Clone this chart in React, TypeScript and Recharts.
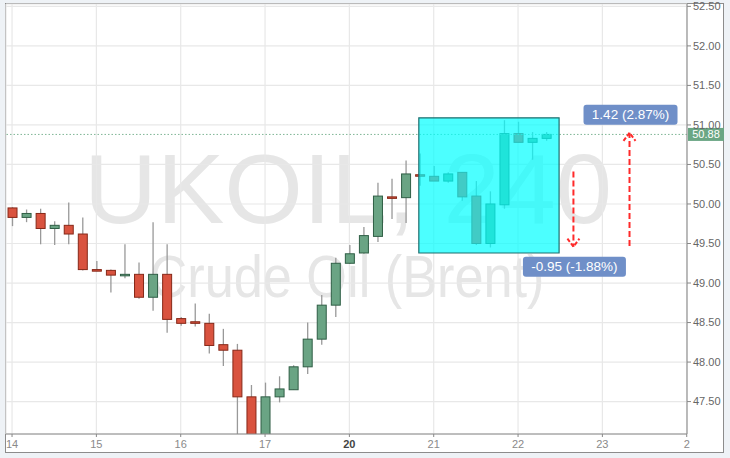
import {
  ComposedChart,
  Bar,
  XAxis,
  YAxis,
  CartesianGrid,
  ReferenceArea,
  ReferenceLine,
} from 'recharts'

// UKOIL 4h candles, 14th -> 22nd
const opens = [
  49.95, 49.83, 49.88, 49.69, 49.73, 49.62, 49.17, 49.16, 49.1, 49.11, 48.82, 49.11, 48.55, 48.51,
  48.49, 48.22, 48.15, 47.56, 46.98, 47.56, 47.65, 47.94, 48.29, 48.72, 49.25, 49.38, 49.59, 50.09,
  50.08, 50.37, 50.35, 50.29, 50.4, 50.1, 49.5, 49.99, 50.89, 50.78, 50.83,
]
const highs = [
  49.96, 49.93, 49.94, 49.78, 50.02, 49.83, 49.28, 49.17, 49.49, 49.26, 49.77, 49.49, 48.57, 48.74,
  48.61, 48.42, 48.23, 47.71, 47.74, 47.82, 47.96, 48.5, 48.85, 49.32, 49.48, 49.71, 50.27, 50.32,
  50.55, 50.64, 50.48, 50.4, 50.4, 50.29, 50.16, 51.06, 51.04, 50.91, 50.91,
]
const lows = [
  49.72, 49.77, 49.49, 49.48, 49.49, 49.16, 49.15, 48.88, 49.06, 48.8, 48.65, 48.37, 48.46, 48.45,
  48.11, 47.95, 47.0, 46.9, 46.92, 47.49, 47.65, 47.85, 48.22, 48.57, 49.24, 49.37, 49.52, 49.81,
  49.76, 50.23, 50.29, 50.27, 50.04, 49.48, 49.45, 49.94, 50.78, 50.56, 50.8,
]
const closes = [
  49.83, 49.88, 49.69, 49.73, 49.62, 49.17, 49.15, 49.1, 49.11, 48.82, 49.11, 48.54, 48.49, 48.49,
  48.21, 48.15, 47.56, 46.98, 47.56, 47.66, 47.94, 48.29, 48.72, 49.25, 49.37, 49.6, 50.1, 50.08,
  50.38, 50.36, 50.29, 50.38, 50.09, 49.5, 50.0, 50.89, 50.78, 50.83, 50.88,
]

const dayTicks = [0, 6, 12, 18, 24, 30, 36, 42, 48]
const dayLabels = ['14', '15', '16', '17', '20', '21', '22', '23', '2']
const priceTicks = [47.5, 48, 48.5, 49, 49.5, 50, 50.5, 51, 51.5, 52, 52.5]

const lastPrice = 50.88
// highlighted box and the two measure arrows
const boxX = [28.94, 38.92]
const boxY = [49.38, 51.09]
const downMeasure = { x: 39.94, from: 50.41, to: 49.46, label: '-0.95 (-1.88%)' }
const upMeasure = { x: 43.93, from: 49.47, to: 50.9, label: '1.42 (2.87%)' }

const FONT = '"Liberation Sans", Arial, sans-serif'
const UP_FILL = '#6aa484'
const UP_EDGE = '#2f5e45'
const DOWN_FILL = '#d9533f'
const DOWN_EDGE = '#862818'
const TAG_BLUE = '#6f8fc8'

const data = opens.map((o, i) => ({
  i,
  open: o,
  high: highs[i],
  low: lows[i],
  close: closes[i],
  range: [lows[i], highs[i]],
}))

function Candle(props: any) {
  const { x, y, width, height, payload } = props
  if (!payload) return null
  const top = Math.min(y, y + height)
  const h = Math.abs(height)
  const k = h / (payload.high - payload.low)
  const up = payload.close >= payload.open
  const bTop = top + (payload.high - Math.max(payload.open, payload.close)) * k
  const bBot = top + (payload.high - Math.min(payload.open, payload.close)) * k
  const cx = x + width / 2
  return (
    <g>
      <line x1={cx} x2={cx} y1={top} y2={top + h} stroke="#999" strokeWidth={1.3} />
      <rect
        x={x}
        y={bTop}
        width={width}
        height={Math.max(1.5, bBot - bTop)}
        fill={up ? UP_FILL : DOWN_FILL}
        stroke={up ? UP_EDGE : DOWN_EDGE}
        strokeWidth={1}
      />
    </g>
  )
}

function PriceLine(props: any) {
  const { x1, x2, y1 } = props
  const right = Math.max(x1, x2)
  return (
    <g>
      <line x1={x1} x2={x2} y1={y1} y2={y1} stroke="#7fb596" strokeDasharray="1.5 2" strokeWidth={1} />
      <rect x={right + 1} y={y1 - 6.5} width={36} height={13} fill="#6aa684" />
      <text x={right + 19} y={y1 + 4} fill="#fff" fontSize={11} fontFamily={FONT} textAnchor="middle">
        {lastPrice.toFixed(2)}
      </text>
    </g>
  )
}

function measureArrow(label: string, up: boolean, boxW: number) {
  return (props: any) => {
    const { x1, y1, x2, y2 } = props
    const tip = up ? Math.min(y1, y2) : Math.max(y1, y2)
    const d = up ? 1 : -1
    const boxY = up ? tip - 28 : tip + 10
    return (
      <g>
        <line x1={x1} x2={x2} y1={y1} y2={y2} stroke="#ff2a2a" strokeWidth={2} strokeDasharray="6 3" />
        <path
          d={`M${x1 - 6},${tip + 8 * d} L${x1},${tip} L${x1 + 6},${tip + 8 * d}`}
          fill="none"
          stroke="#ff2a2a"
          strokeWidth={2}
          strokeDasharray="4 2"
        />
        <rect x={x1 - boxW / 2 + 1} y={boxY} width={boxW} height={20} rx={3} fill={TAG_BLUE} />
        <text
          x={x1 + 1}
          y={boxY + 14.5}
          fill="#fff"
          fontSize={13.5}
          fontFamily={FONT}
          textAnchor="middle"
        >
          {label}
        </text>
      </g>
    )
  }
}

function DayTick(props: any) {
  const { x, y, payload } = props
  const idx = dayTicks.indexOf(payload.value)
  const label = dayLabels[idx] ?? ''
  const bold = label === '20'
  return (
    <text
      x={x}
      y={y + 9}
      fill={bold ? '#444' : '#8a8a8a'}
      fontWeight={bold ? 'bold' : 'normal'}
      fontSize={11}
      fontFamily={FONT}
      textAnchor="middle"
    >
      {label}
    </text>
  )
}

export default function App() {
  return (
    <div style={{ position: 'relative', width: 730, height: 458, background: '#eef2f6', overflow: 'hidden' }}>
      <style>{'body{margin:0}'}</style>
      <div
        style={{
          position: 'absolute',
          left: 5,
          top: 3,
          width: 717,
          height: 448,
          background: '#fff',
          border: '1.5px solid #8c8c8c',
        }}
      />
      <svg width={730} height={458} style={{ position: 'absolute', left: 0, top: 0 }}>
        <text
          x={348}
          y={223}
          fill="#e6e6e6"
          fontSize={98}
          fontFamily={FONT}
          textAnchor="middle"
          textLength={528}
          lengthAdjust="spacingAndGlyphs"
        >
          UKOIL, 240
        </text>
        <text
          x={347}
          y={297}
          fill="#e6e6e6"
          fontSize={60}
          fontFamily={FONT}
          textAnchor="middle"
          textLength={395}
          lengthAdjust="spacingAndGlyphs"
        >
          Crude Oil (Brent)
        </text>
      </svg>
      <div style={{ position: 'absolute', left: 0, top: 0 }}>
        <ComposedChart width={730} height={458} data={data} margin={{ top: 4, right: 0, bottom: 0, left: 6 }}>
          <CartesianGrid stroke="#e8e8e8" strokeWidth={1.2} />
          <XAxis
            dataKey="i"
            type="number"
            domain={[-0.43, 48.02]}
            allowDataOverflow
            ticks={dayTicks}
            tick={<DayTick />}
            tickSize={3}
            axisLine={{ stroke: '#888' }}
            tickLine={{ stroke: '#888' }}
            height={24}
          />
          <YAxis
            orientation="right"
            type="number"
            domain={[47.09, 52.53]}
            allowDataOverflow
            ticks={priceTicks}
            tickFormatter={(v: number) => v.toFixed(2)}
            tick={{ fill: '#666', fontSize: 11, fontFamily: FONT }}
            tickSize={4}
            tickMargin={2}
            width={43}
            axisLine={{ stroke: '#888' }}
            tickLine={{ stroke: '#888' }}
          />
          <ReferenceLine y={lastPrice} shape={PriceLine} zIndex={350} />
          <Bar dataKey="range" barSize={9} shape={Candle} isAnimationActive={false} />
          <ReferenceArea
            x1={boxX[0]}
            x2={boxX[1]}
            y1={boxY[0]}
            y2={boxY[1]}
            fill="#00ffff"
            fillOpacity={0.7}
            stroke="#1f6e6e"
            strokeOpacity={1}
            strokeWidth={1.2}
            zIndex={450}
          />
          <ReferenceLine
            segment={[
              { x: downMeasure.x, y: downMeasure.from },
              { x: downMeasure.x, y: downMeasure.to },
            ]}
            shape={measureArrow(downMeasure.label, false, 103)}
            zIndex={700}
          />
          <ReferenceLine
            segment={[
              { x: upMeasure.x, y: upMeasure.from },
              { x: upMeasure.x, y: upMeasure.to },
            ]}
            shape={measureArrow(upMeasure.label, true, 94)}
            zIndex={700}
          />
        </ComposedChart>
      </div>
    </div>
  )
}
